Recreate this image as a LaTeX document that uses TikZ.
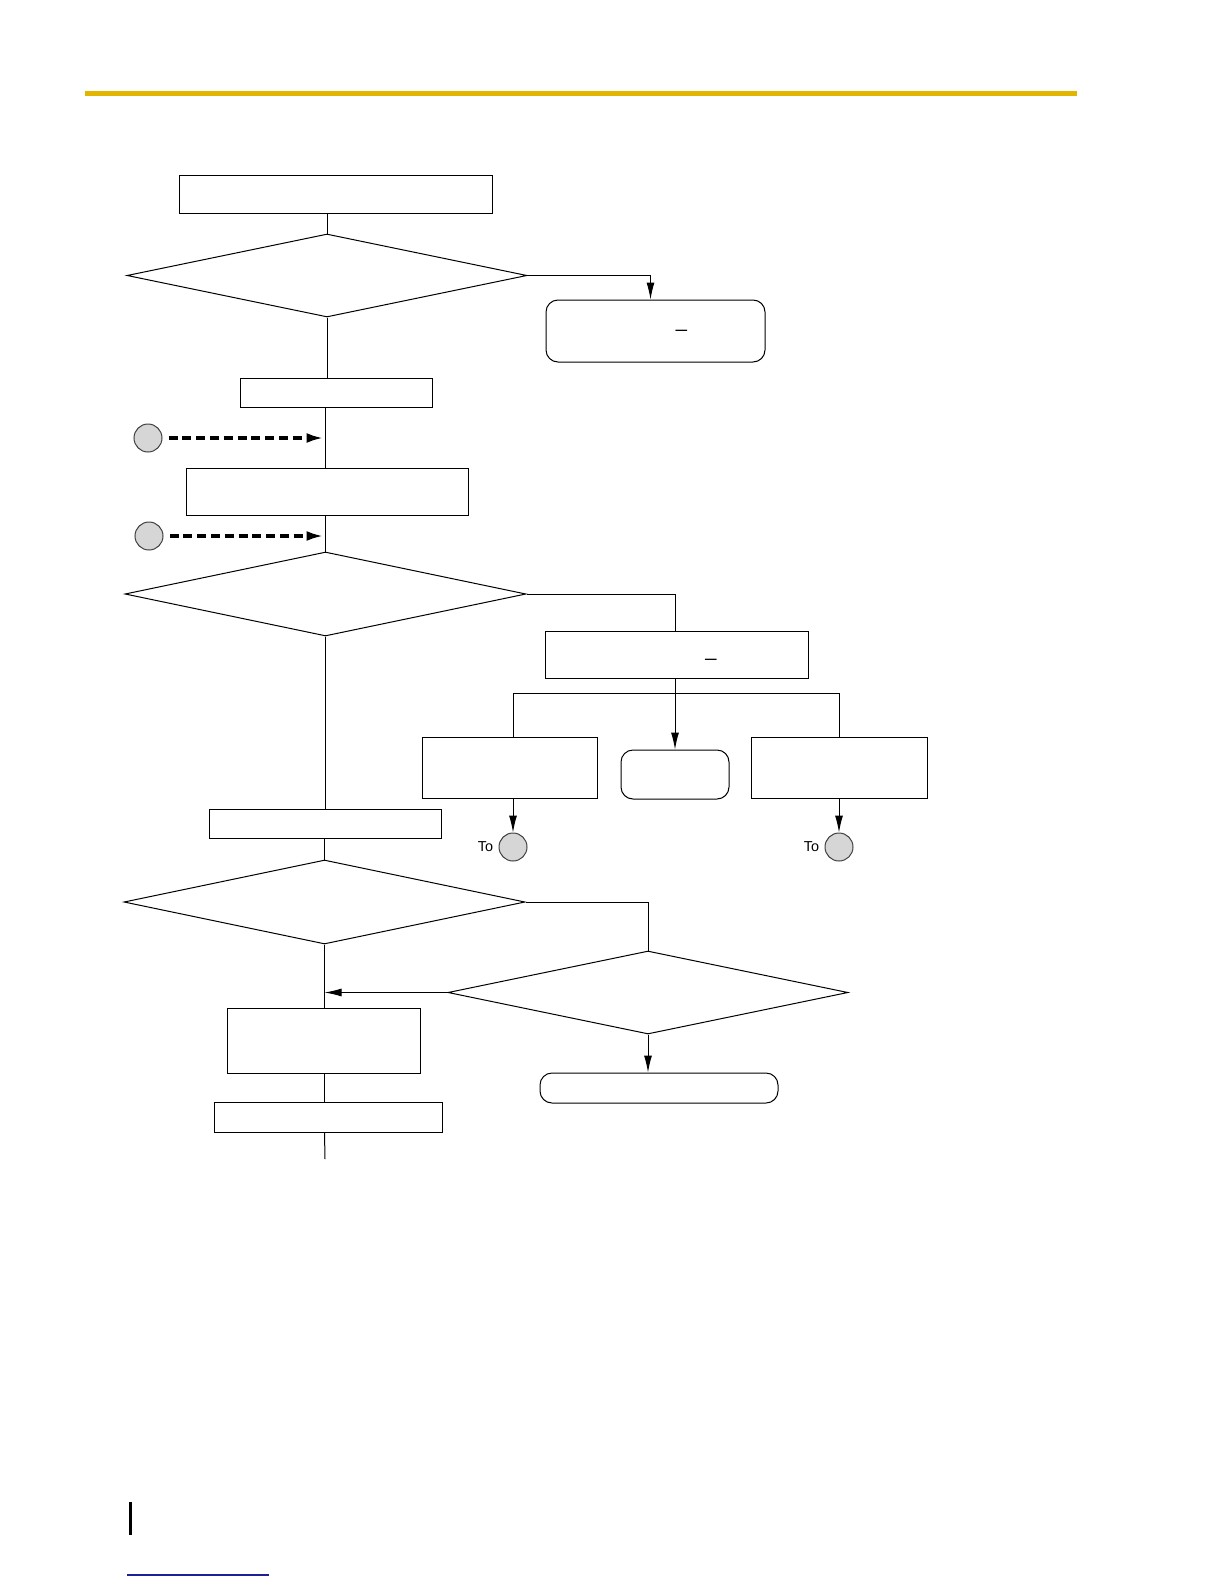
\documentclass[tikz,border=0pt]{standalone}
\usepackage{fontspec}
\setmainfont{Liberation Sans}
\usetikzlibrary{shapes.geometric,arrows.meta,fit}
\definecolor{hdryellow}{RGB}{226,181,0}
\definecolor{linkblue}{RGB}{30,30,150}
\definecolor{conngray}{RGB}{214,214,214}
\begin{document}
\begin{tikzpicture}[x=0.5pt,y=-0.5pt,
  line width=0.5pt,
  boxnode/.style={draw, rectangle, inner sep=0pt, line width=0.5pt},
  roundnode/.style={boxnode, rounded corners=6pt},
  decision/.style={draw, diamond, inner sep=0pt, line width=0.5pt},
  connector/.style={draw=black!75, circle, fill=conngray, minimum size=14pt, inner sep=0pt, line width=0.5pt},
  flow/.style={line width=0.5pt},
  arr/.style={flow, -{Latex[length=8.5pt,width=4pt]}},
  dasharr/.style={line width=1.6pt, dash pattern=on 4.5pt off 2.4pt, -{Latex[length=8.5pt,width=5pt]}, shorten >=1pt, shorten <=3pt},
  tolabel/.style={anchor=east, inner sep=0pt, font=\fontsize{7.2pt}{8pt}\selectfont},
  markstyle/.style={anchor=base, inner sep=0pt, font=\fontsize{10pt}{12pt}\selectfont}
]
\path[use as bounding box] (0,0) rectangle (1224,1584);

% header and footer decorations
\fill[hdryellow] (85,91) rectangle (1077,96);
\fill[black] (129,1502) rectangle (132,1535);
\fill[linkblue] (127,1574) rectangle (269,1576);

% nodes
\node[boxnode, fit={(179,175) (492,213)}] (top) {};
\node[decision, minimum width=200pt, minimum height=41.5pt] (d1) at (327,275.5) {};
\node[roundnode, fit={(546,300) (765,362)}] (rb1) {};
\node[markstyle] (u1) at (681.5,327) {\_};
\node[boxnode, fit={(240,378) (432,407)}] (b2) {};
\node[connector] (cA) at (148,438) {};
\node[boxnode, fit={(186,468) (468,515)}] (b3) {};
\node[connector] (cB) at (149,536) {};
\node[decision, minimum width=200.5pt, minimum height=42pt] (d2) at (325.5,594) {};
\node[boxnode, fit={(545,631) (808,678)}] (b4) {};
\node[markstyle] (u2) at (711,656) {\_};
\node[boxnode, fit={(422,737) (597,798)}] (b6) {};
\node[roundnode, fit={(621,750) (729,799)}] (rb5) {};
\node[boxnode, fit={(751,737) (927,798)}] (b7) {};
\node[connector] (cL) at (513,847) {};
\node[connector] (cR) at (839,847) {};
\node[tolabel] (toL) at ([xshift=-2.5pt]cL.west) {To};
\node[tolabel] (toR) at ([xshift=-2.5pt]cR.west) {To};
\node[boxnode, fit={(209,809) (441,838)}] (b8) {};
\node[decision, minimum width=200.5pt, minimum height=42pt] (d3) at (324.5,902) {};
\node[decision, minimum width=200pt, minimum height=41.5pt] (d4) at (648,992.5) {};
\node[boxnode, fit={(227,1008) (420,1073)}] (b9) {};
\node[roundnode, fit={(540,1073) (778,1103)}] (rb10) {};
\node[boxnode, fit={(214,1102) (442,1132)}] (b11) {};
\coordinate (endpt) at (325,1159);

% connectors
\draw[flow] (d1.north) -- (d1.north |- top.south);
\draw[arr] (d1.east) -| ([xshift=-2.5pt]rb1.north);
\draw[flow] (d1.south) -- (d1.south |- b2.north);
\draw[flow] (d2.north |- b2.south) -- (d2.north |- b3.north);
\draw[flow] (d2.north |- b3.south) -- (d2.north);
\draw[dasharr] (cA.east) -- (cA -| d2.north);
\draw[dasharr] (cB.east) -- (cB -| d2.north);
\draw[flow] (d2.east) -| ([xshift=-0.75pt]b4.north);
\draw[arr] ([xshift=-0.75pt]b4.south) -- (rb5.north);
\draw[flow] (cL.north |- b6.north) |- ([yshift=-7.5pt]b4.south) -| (b7.north);
\draw[arr] (b6.south -| cL.north) -- (cL.north);
\draw[arr] (b7.south -| cR.north) -- (cR.north);
\draw[flow] (d2.south) -- (d2.south |- b8.north);
\draw[flow] (d3.north |- b8.south) -- (d3.north);
\draw[flow] (d3.east) -| (d4.north);
\draw[arr] (d4.west) -- (d4.west -| d3.south);
\draw[flow] (d3.south) -- (d3.south |- b9.north);
\draw[arr] (d4.south) -- (d4.south |- rb10.north);
\draw[flow] (d3.south |- b9.south) -- (d3.south |- b11.north);
\draw[flow] (d3.south |- b11.south) -- (endpt);
\end{tikzpicture}
\end{document}
